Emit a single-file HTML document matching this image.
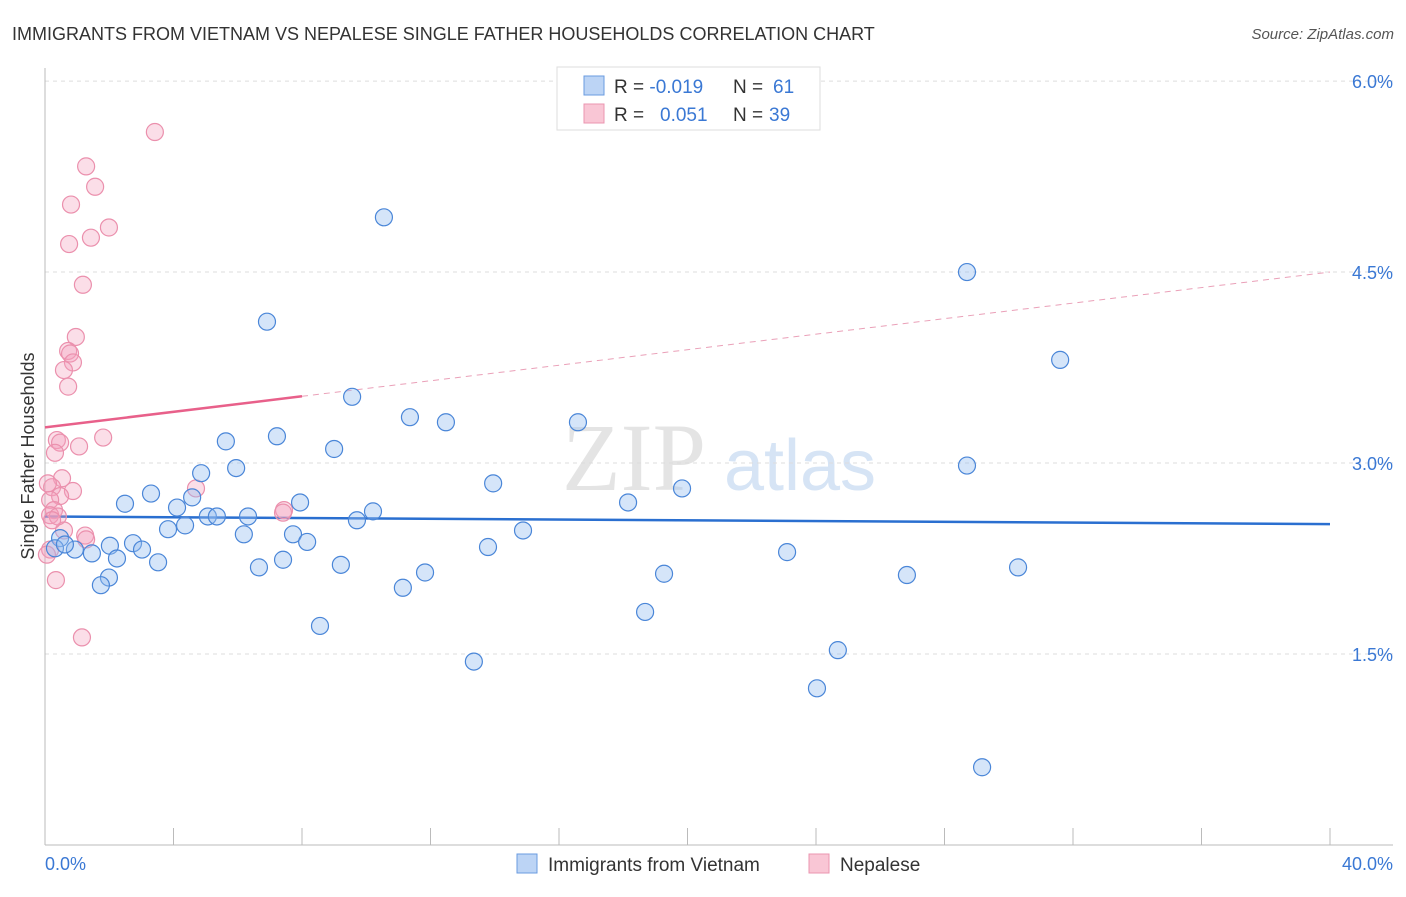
<!DOCTYPE html>
<html><head><meta charset="utf-8"><style>
body{margin:0;background:#fff;font-family:"Liberation Sans",sans-serif}
</style></head><body>
<svg width="1406" height="892" xmlns="http://www.w3.org/2000/svg" id="svg" style="font-family:'Liberation Sans',sans-serif">
<text x="12" y="40" font-size="18" fill="#333">IMMIGRANTS FROM VIETNAM VS NEPALESE SINGLE FATHER HOUSEHOLDS CORRELATION CHART</text>
<text x="1394" y="39" font-size="15" fill="#555" font-style="italic" text-anchor="end">Source: ZipAtlas.com</text>
<text x="634" y="490" font-size="96" fill="#e4e4e4" font-family="Liberation Serif" text-anchor="middle">ZIP</text>
<text x="800" y="490" font-size="72" fill="#d6e4f5" text-anchor="middle">atlas</text>
<g id="grid"></g><g id="axes"></g><g id="trend"></g><g id="pts"></g>
<text transform="translate(34,456) rotate(-90)" font-size="18" fill="#333" text-anchor="middle">Single Father Households</text>
<text x="45" y="870" font-size="18" fill="#3a78d4">0.0%</text>
<text x="1393" y="870" font-size="18" fill="#3a78d4" text-anchor="end">40.0%</text>
<g>
<rect x="557" y="67" width="263" height="63" fill="#fff" stroke="#ddd"/>
<rect x="584" y="76" width="20" height="19" fill="#bcd4f5" stroke="#6a9be0"/>
<rect x="584" y="104" width="20" height="19" fill="#f9c6d5" stroke="#eb95b0"/>
<text x="614" y="93" font-size="19" fill="#333">R = <tspan fill="#3a78d4">-0.019</tspan><tspan x="733">N = </tspan><tspan fill="#3a78d4" x="773">61</tspan></text>
<text x="614" y="121" font-size="19" fill="#333">R = <tspan fill="#3a78d4" x="660">0.051</tspan><tspan x="733">N = </tspan><tspan fill="#3a78d4" x="769">39</tspan></text>
</g>
<g>
<rect x="517" y="854" width="20" height="19" fill="#bcd4f5" stroke="#6a9be0"/>
<text x="548" y="871" font-size="19" fill="#333">Immigrants from Vietnam</text>
<rect x="809" y="854" width="20" height="19" fill="#f9c6d5" stroke="#eb95b0"/>
<text x="840" y="871" font-size="19" fill="#333">Nepalese</text>
</g>
</svg>
<script>
const yTicks=[1.5,3.0,4.5,6.0];
const yTickLabels=["1.5%","3.0%","4.5%","6.0%"];
const blueX=[10.55,28.70,6.91,31.60,9.56,11.36,12.48,16.59,5.63,7.22,9.00,28.70,5.95,4.86,13.95,19.83,3.30,4.58,2.49,7.94,18.15,4.11,10.21,5.07,5.35,6.32,9.71,3.83,4.36,6.19,14.88,7.72,8.16,2.74,13.79,3.02,23.10,0.47,0.31,0.93,1.46,2.02,2.24,3.52,7.41,9.21,6.66,30.29,19.27,11.83,26.83,1.99,1.74,11.14,18.68,8.56,24.68,13.35,24.03,29.17,0.62];
const blueY=[4.93,4.50,4.11,3.81,3.52,3.36,3.32,3.32,3.17,3.21,3.11,2.98,2.96,2.92,2.84,2.80,2.76,2.73,2.68,2.69,2.69,2.65,2.62,2.58,2.58,2.58,2.55,2.48,2.51,2.44,2.47,2.44,2.38,2.37,2.34,2.32,2.30,2.41,2.33,2.32,2.29,2.35,2.25,2.22,2.24,2.20,2.18,2.18,2.13,2.14,2.12,2.10,2.04,2.02,1.83,1.72,1.53,1.44,1.23,0.61,2.36];
const pinkX=[3.42,1.28,1.56,0.81,1.99,1.43,0.75,1.18,0.96,0.72,0.78,0.87,0.59,0.72,1.81,0.37,0.47,1.06,0.31,0.53,0.87,0.22,0.47,0.16,0.28,0.16,4.70,7.44,7.41,0.59,1.25,1.28,0.16,0.06,0.34,1.15,0.40,0.22,0.09];
const pinkY=[5.60,5.33,5.17,5.03,4.85,4.77,4.72,4.40,3.99,3.88,3.86,3.79,3.73,3.60,3.20,3.18,3.16,3.13,3.08,2.88,2.78,2.81,2.74,2.71,2.63,2.59,2.80,2.63,2.61,2.47,2.43,2.40,2.32,2.28,2.08,1.63,2.58,2.55,2.84];
const blueTrend=[2.58,2.52];
const pinkTrend=[3.28,4.50];
const pinkSolidEnd=8;
const xs=v=>45+v*32.125, ys=v=>463-(v-3)*127.3;
const NS="http://www.w3.org/2000/svg";
function mk(p,t,a){const e=document.createElementNS(NS,t);for(const k in a)e.setAttribute(k,a[k]);document.getElementById(p).appendChild(e);return e;}
yTicks.forEach((t,i)=>{
 const l=mk('grid','line',{x1:45,x2:1393,y1:ys(t),y2:ys(t),stroke:'#ddd','stroke-dasharray':'4,4'});
 
 
 const tx=mk('grid','text',{x:1393,y:ys(t)+7,'font-size':18,fill:'#3a78d4','text-anchor':'end'});
 tx.textContent=yTickLabels[i];
 
 
});
let ax=mk('axes','line',{x1:45,x2:45,y1:68,y2:845,stroke:'#bbb'});


ax=mk('axes','line',{x1:45,x2:1393,y1:845,y2:845,stroke:'#bbb'});


for(let v=4;v<=40;v+=4){const t=mk('axes','line',{x1:xs(v),x2:xs(v),y1:828,y2:845,stroke:'#bbb'});
 
 }
let tl=mk('trend','line',{x1:xs(0),x2:xs(40),y1:ys(blueTrend[0]),y2:ys(blueTrend[1]),stroke:'#2a6fd0','stroke-width':2.5});


const pm=pinkTrend[0]+(pinkTrend[1]-pinkTrend[0])*pinkSolidEnd/40;
tl=mk('trend','line',{x1:xs(0),x2:xs(pinkSolidEnd),y1:ys(pinkTrend[0]),y2:ys(pm),stroke:'#e8608a','stroke-width':2.5});


tl=mk('trend','line',{x1:xs(pinkSolidEnd),x2:xs(40),y1:ys(pm),y2:ys(pinkTrend[1]),stroke:'#eaa0b8','stroke-width':1,'stroke-dasharray':'6,5'});


pinkX.forEach((x,i)=>{const c=mk('pts','circle',{cx:xs(x),cy:ys(pinkY[i]),r:8.5,fill:'rgba(244,160,188,0.35)',stroke:'#eb90ad','stroke-width':1.2});
 
 });
blueX.forEach((x,i)=>{const c=mk('pts','circle',{cx:xs(x),cy:ys(blueY[i]),r:8.5,fill:'rgba(150,190,240,0.4)',stroke:'#4a86d8','stroke-width':1.2});
 
 });
</script>
</body></html>
